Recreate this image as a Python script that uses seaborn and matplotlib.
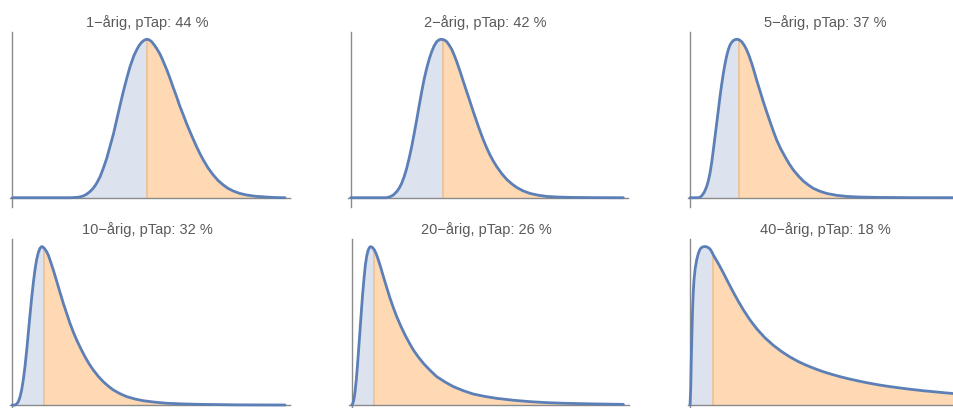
import matplotlib
matplotlib.use("Agg")
import matplotlib.pyplot as plt
import seaborn as sns

# ---------------- data ----------------
# x: value relative to the threshold (threshold = 1), y: density relative to the peak
horizons = [1, 2, 5, 10, 20, 40]
ptap = [44, 42, 37, 32, 26, 18]
threshold = 1.0

x_1 = [0, 0.43, 0.477, 0.50, 0.526, 0.55, 0.575, 0.60, 0.625, 0.65, 0.674, 0.70, 0.723, 0.75, 0.773,
       0.80, 0.822, 0.85, 0.872, 0.90, 0.921, 0.94, 0.958, 0.975, 0.99, 1.0, 1.015, 1.032, 1.05, 1.069,
       1.095, 1.119, 1.145, 1.168, 1.19, 1.217, 1.24, 1.267, 1.29, 1.316, 1.34, 1.365, 1.39, 1.415,
       1.45, 1.489, 1.525, 1.563, 1.60, 1.637, 1.685, 1.736, 1.80, 1.884, 1.95, 2.02]
y_1 = [0, 0, 0.002, 0.005, 0.011, 0.022, 0.038, 0.060, 0.091, 0.132, 0.185, 0.250, 0.322, 0.405, 0.491,
       0.590, 0.669, 0.760, 0.827, 0.895, 0.933, 0.962, 0.981, 0.993, 0.999, 1.0, 0.996, 0.985, 0.966, 0.943,
       0.905, 0.859, 0.806, 0.754, 0.700, 0.638, 0.580, 0.522, 0.470, 0.417, 0.370, 0.322, 0.278, 0.238,
       0.188, 0.143, 0.108, 0.080, 0.058, 0.042, 0.027, 0.017, 0.009, 0.004, 0.001, 0]

x_2 = [0, 0.388, 0.424, 0.46, 0.496, 0.523, 0.550, 0.577, 0.604, 0.631, 0.658, 0.685, 0.712, 0.739,
       0.766, 0.793, 0.820, 0.847, 0.874, 0.90, 0.928, 0.955, 0.975, 1.0, 1.018, 1.036, 1.063, 1.090,
       1.117, 1.144, 1.18, 1.216, 1.252, 1.288, 1.324, 1.360, 1.396, 1.432, 1.468, 1.504, 1.540, 1.576,
       1.63, 1.683, 1.737, 1.791, 1.86, 1.935, 2.02, 2.115, 2.24, 2.367, 2.6, 2.942]
y_2 = [0, 0, 0.006, 0.017, 0.038, 0.060, 0.091, 0.133, 0.185, 0.250, 0.322, 0.405, 0.491, 0.582,
       0.669, 0.750, 0.817, 0.875, 0.922, 0.958, 0.985, 0.997, 1.0, 0.998, 0.993, 0.985, 0.963, 0.937,
       0.900, 0.859, 0.798, 0.733, 0.669, 0.606, 0.541, 0.480, 0.420, 0.364, 0.314, 0.269, 0.230, 0.196,
       0.152, 0.116, 0.088, 0.065, 0.043, 0.027, 0.016, 0.008, 0.004, 0.002, 0.0005, 0]

x_5 = [0, 0.169, 0.20, 0.236, 0.29, 0.338, 0.372, 0.405, 0.44, 0.473, 0.507, 0.541, 0.575, 0.608,
       0.642, 0.676, 0.71, 0.743, 0.777, 0.811, 0.845, 0.878, 0.92, 0.966, 1.0, 1.047, 1.10, 1.149,
       1.20, 1.250, 1.30, 1.351, 1.42, 1.486, 1.555, 1.622, 1.69, 1.757, 1.84, 1.926, 2.01, 2.095,
       2.195, 2.297, 2.40, 2.500, 2.63, 2.770, 2.97, 3.176, 3.45, 3.784, 4.5, 5.6]
y_5 = [0, 0, 0.003, 0.011, 0.035, 0.070, 0.107, 0.154, 0.222, 0.301, 0.385, 0.469, 0.555, 0.638,
       0.715, 0.785, 0.845, 0.895, 0.935, 0.964, 0.981, 0.992, 0.999, 1.0, 0.996, 0.985, 0.962, 0.933,
       0.894, 0.849, 0.798, 0.743, 0.673, 0.606, 0.541, 0.480, 0.420, 0.364, 0.308, 0.259, 0.214, 0.175,
       0.138, 0.105, 0.080, 0.059, 0.041, 0.027, 0.015, 0.008, 0.004, 0.002, 0.0003, 0]

x_10 = [0, 0.083, 0.135, 0.188, 0.24, 0.292, 0.344, 0.396, 0.448, 0.5, 0.552, 0.604, 0.656, 0.708,
        0.76, 0.813, 0.865, 0.917, 0.96, 1.0, 1.06, 1.125, 1.20, 1.281, 1.36, 1.438, 1.516, 1.594,
        1.70, 1.802, 1.906, 2.010, 2.14, 2.271, 2.40, 2.531, 2.69, 2.844, 3.0, 3.156, 3.36, 3.573,
        3.83, 4.094, 4.45, 4.823, 5.3, 5.865, 7.0, 8.521]
y_10 = [0, 0, 0.006, 0.021, 0.050, 0.095, 0.160, 0.242, 0.342, 0.453, 0.566, 0.674, 0.770, 0.853,
        0.918, 0.962, 0.990, 1.0, 0.997, 0.989, 0.972, 0.947, 0.903, 0.853, 0.800, 0.747, 0.694, 0.642,
        0.578, 0.516, 0.461, 0.411, 0.356, 0.305, 0.260, 0.221, 0.180, 0.147, 0.119, 0.095, 0.072, 0.053,
        0.038, 0.027, 0.018, 0.011, 0.007, 0.004, 0.001, 0]

x_20 = [0, 0.037, 0.074, 0.110, 0.147, 0.20, 0.250, 0.31, 0.368, 0.426, 0.485, 0.545, 0.603, 0.662,
        0.721, 0.78, 0.838, 0.92, 1.0, 1.088, 1.176, 1.287, 1.397, 1.544, 1.691, 1.838, 1.985, 2.17,
        2.353, 2.537, 2.721, 2.94, 3.162, 3.456, 3.750, 4.12, 4.485, 4.93, 5.368, 5.88, 6.397, 7.13,
        7.868, 8.6, 9.338, 10.6, 11.985]
y_20 = [0, 0.006, 0.021, 0.047, 0.084, 0.155, 0.242, 0.358, 0.474, 0.592, 0.705, 0.802, 0.884, 0.940,
        0.975, 0.994, 1.0, 0.994, 0.979, 0.952, 0.916, 0.865, 0.811, 0.742, 0.674, 0.614, 0.558, 0.497,
        0.442, 0.393, 0.347, 0.303, 0.263, 0.219, 0.179, 0.145, 0.116, 0.090, 0.069, 0.054, 0.042, 0.030,
        0.021, 0.015, 0.011, 0.007, 0.004]

x_40 = [0, 0.03, 0.057, 0.086, 0.114, 0.143, 0.171, 0.22, 0.286, 0.357, 0.429, 0.5, 0.571, 0.643,
        0.714, 0.786, 0.857, 0.93, 1.0, 1.214, 1.429, 1.643, 1.857, 2.07, 2.286, 2.571, 2.857, 3.214,
        3.571, 3.93, 4.286, 4.643, 5.0, 5.357, 5.714, 6.07, 6.429, 6.786, 7.143, 7.5, 7.857, 8.214,
        8.571, 8.93, 9.286, 9.643, 10.0, 10.357, 10.714, 11.0, 11.314, 12.0]
y_40 = [0, 0.10, 0.30, 0.47, 0.621, 0.72, 0.789, 0.86, 0.916, 0.957, 0.983, 0.995, 0.999, 1.0,
        0.999, 0.993, 0.985, 0.968, 0.947, 0.893, 0.834, 0.772, 0.712, 0.655, 0.601, 0.537, 0.482, 0.424,
        0.377, 0.337, 0.303, 0.274, 0.250, 0.229, 0.210, 0.194, 0.179, 0.166, 0.154, 0.143, 0.133, 0.124,
        0.116, 0.109, 0.102, 0.096, 0.090, 0.085, 0.080, 0.076, 0.072, 0.065]

xs = [x_1, x_2, x_5, x_10, x_20, x_40]
ys = [y_1, y_2, y_5, y_10, y_20, y_40]

# ---------------- layout / style ----------------
sns.set_theme(style="white")
plt.rcParams['font.family'] = ['Liberation Sans', 'DejaVu Sans']

W, H = 954, 408
fig = plt.figure(figsize=(W / 100, H / 100), dpi=100)

spine_px = [12.3, 350.7, 690.0, 12.3, 351.7, 690.0]
unit_px = [135.0, 92.67, 49.33, 32.0, 22.67, 23.33]
axis_y_px = [197.7, 197.7, 197.7, 405.0, 405.0, 405.0]
yunit = 158.4
top_pad = 166.0
bot_pad = 9.3
left_pad = 2.5
width_px = 280.0

line_col = '#5b7fb6'
blue_fill = '#dce3ef'
orange_fill = '#fed9b3'
thr_col = '#efc08f'
axis_col = '#8a8a8a'

for i in range(6):
    sx, u, ay = spine_px[i], unit_px[i], axis_y_px[i]
    left = sx - left_pad
    top = ay - top_pad
    h = top_pad + bot_pad
    ax = fig.add_axes([left / W, 1 - (top + h) / H, width_px / W, h / H])
    ax.set_xlim(-left_pad / u, (width_px - left_pad) / u)
    ax.set_ylim(-bot_pad / yunit, top_pad / yunit)

    x = xs[i]
    y = ys[i]
    xl = [a for a in x if a <= threshold]
    yl = [b for a, b in zip(x, y) if a <= threshold]
    xr = [a for a in x if a >= threshold]
    yr = [b for a, b in zip(x, y) if a >= threshold]
    ax.fill_between(xl, 0, yl, color=blue_fill, lw=0, zorder=1)
    ax.fill_between(xr, 0, yr, color=orange_fill, lw=0, zorder=1)
    ythr = yr[0]
    ax.vlines(threshold, 0, ythr, color=thr_col, lw=1.2, zorder=2)
    sns.lineplot(x=x, y=y, ax=ax, color=line_col, lw=2.0, estimator=None,
                 zorder=4, legend=False)

    for s in ['top', 'right']:
        ax.spines[s].set_visible(False)
    ax.spines['left'].set_position(('data', 0))
    ax.spines['bottom'].set_position(('data', 0))
    for s in ['left', 'bottom']:
        ax.spines[s].set_color(axis_col)
        ax.spines[s].set_linewidth(1.0)
        ax.spines[s].set_zorder(3)
    ax.set_xticks([])
    ax.set_yticks([])
    ax.set_xlabel('')
    ax.set_ylabel('')
    ax.patch.set_alpha(0)

    title = f"{horizons[i]}\u2212årig, pTap: {ptap[i]} %"
    fig.text((sx + 135) / W, 1 - (ay - 175.5) / H, title, ha='center', va='center',
             fontsize=10.5, color='#5a5a5a')

fig.savefig('out.png', dpi=100)
